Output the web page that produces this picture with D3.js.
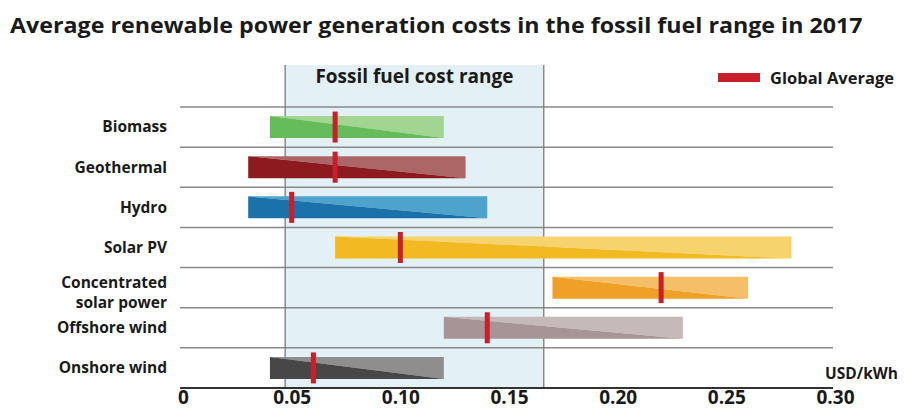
<!DOCTYPE html>
<html>
<head>
<meta charset="utf-8">
<script src="https://cdn.jsdelivr.net/npm/d3@7"></script>
<style>
  html, body { margin: 0; padding: 0; background: #fff; }
  svg { display: block; }
</style>
</head>
<body>
<svg id="chart" width="904" height="410"></svg>
<script>
// Technologies, top to bottom
const categories = ["Biomass", "Geothermal", "Hydro", "Solar PV", "Concentrated solar power", "Offshore wind", "Onshore wind"];
// Cost range per technology (USD/kWh)
const rangeLow  = [0.04, 0.03, 0.03, 0.07, 0.17, 0.12, 0.04];
const rangeHigh = [0.12, 0.13, 0.14, 0.28, 0.26, 0.23, 0.12];
// Global weighted average (USD/kWh)
const globalAvg = [0.07, 0.07, 0.05, 0.10, 0.22, 0.14, 0.06];
// Bar colours: darker lower-left half, lighter upper-right half
const darkColors  = ["#66bb5a", "#8c1a1e", "#1b72ab", "#f1ba22", "#eea126", "#a69496", "#474747"];
const lightColors = ["#a2d592", "#ad6666", "#4da3cb", "#f6d36c", "#f4bf68", "#c6b9ba", "#8e8e8e"];
// Fossil fuel cost band (USD/kWh)
const fossilRange = [0.047, 0.166];
const xTicks = [0, 0.05, 0.10, 0.15, 0.20, 0.25, 0.30];

const svg = d3.select("#chart");
const font = "'Open Sans', 'DejaVu Sans', sans-serif";

const x = d3.scaleLinear().domain([0, 0.30]).range([183, 835]);
const y = d3.scaleBand().domain(categories).range([107, 388]).padding(0);
const barH = 22;

// Title, narrowed horizontally to a fixed width
const title = svg.append("text")
  .attr("x", 0).attr("y", 0)
  .style("font-family", font)
  .style("font-weight", 700).style("font-size", "21.5px").style("fill", "#1a1a1a")
  .text("Average renewable power generation costs in the fossil fuel range in 2017");
const titleLen = title.node().getComputedTextLength();
title.attr("transform", `translate(10,33) scale(${853 / titleLen},1)`);

// Fossil fuel band
const bandTop = 65, axisY = 388;
svg.append("rect")
  .attr("x", x(fossilRange[0])).attr("y", bandTop)
  .attr("width", x(fossilRange[1]) - x(fossilRange[0])).attr("height", axisY - bandTop)
  .attr("fill", "#e3f0f6");

// Row separators
svg.append("g").selectAll("line")
  .data(categories)
  .join("line")
  .attr("x1", 180).attr("x2", x(0.30) - 2)
  .attr("y1", d => y(d)).attr("y2", d => y(d))
  .attr("stroke", "#8a8a8a").attr("stroke-width", 1.5);

// Band edges
svg.append("g").selectAll("line")
  .data(fossilRange)
  .join("line")
  .attr("x1", d => x(d)).attr("x2", d => x(d))
  .attr("y1", bandTop).attr("y2", axisY)
  .attr("stroke", "#7a7a7a").attr("stroke-width", 1.3);

svg.append("text")
  .attr("x", (x(fossilRange[0]) + x(fossilRange[1])) / 2).attr("y", 83)
  .attr("text-anchor", "middle")
  .style("font-family", font).style("font-weight", 700).style("font-size", "19px").style("fill", "#1a1a1a")
  .text("Fossil fuel cost range");

// Range bars
const rows = categories.map((c, i) => ({ c, lo: rangeLow[i], hi: rangeHigh[i], avg: globalAvg[i], dark: darkColors[i], light: lightColors[i] }));
const bars = svg.append("g").selectAll("g").data(rows).join("g");
const barTop = d => y(d.c) + (y.bandwidth() - barH) / 2;

bars.append("polygon")
  .attr("points", d => {
    const x0 = x(d.lo), x1 = x(d.hi), t = barTop(d);
    return [[x0, t], [x1, t], [x1, t + barH]].join(" ");
  })
  .attr("fill", d => d.light);
bars.append("polygon")
  .attr("points", d => {
    const x0 = x(d.lo), x1 = x(d.hi), t = barTop(d);
    return [[x0, t], [x1, t + barH], [x0, t + barH]].join(" ");
  })
  .attr("fill", d => d.dark);

// Global average markers
bars.append("rect")
  .attr("x", d => x(d.avg) - 2.5).attr("y", d => barTop(d) - 4.5)
  .attr("width", 5).attr("height", barH + 9)
  .attr("fill", "#c8202b");

// Category labels
const labels = svg.append("g").selectAll("text").data(rows).join("text")
  .attr("x", 167)
  .attr("y", d => y(d.c) + y.bandwidth() / 2)
  .attr("text-anchor", "end")
  .style("font-family", font).style("font-weight", 700).style("font-size", "15.5px").style("fill", "#1a1a1a");
labels.each(function (d) {
  const t = d3.select(this);
  if (d.c === "Concentrated solar power") {
    t.append("tspan").attr("x", 167).attr("dy", "0em").text("Concentrated");
    t.append("tspan").attr("x", 167).attr("dy", "1.3em").text("solar power");
  } else {
    t.attr("dy", "0.35em").text(d.c);
  }
});

// X axis
const axis = svg.append("g")
  .attr("transform", `translate(0,${axisY})`)
  .call(d3.axisBottom(x).tickValues(xTicks).tickSize(0).tickPadding(2)
    .tickFormat(d => d === 0 ? "0" : d3.format(".2f")(d)));
axis.select(".domain").attr("stroke", "#333").attr("stroke-width", 2)
  .attr("d", `M180,0H${x(0.30) - 2}`);
axis.selectAll("text")
  .style("font-family", font).style("font-weight", 700).style("font-size", "19px").style("fill", "#1a1a1a");

svg.append("text")
  .attr("x", 898).attr("y", 379).attr("text-anchor", "end")
  .style("font-family", font).style("font-weight", 700).style("font-size", "15.5px").style("fill", "#1a1a1a")
  .text("USD/kWh");

// Legend
svg.append("rect").attr("x", 718).attr("y", 73).attr("width", 42).attr("height", 9).attr("fill", "#c8202b");
svg.append("text")
  .attr("x", 770).attr("y", 84)
  .style("font-family", font).style("font-weight", 700).style("font-size", "16.5px").style("fill", "#1a1a1a")
  .text("Global Average");
</script>
</body>
</html>
